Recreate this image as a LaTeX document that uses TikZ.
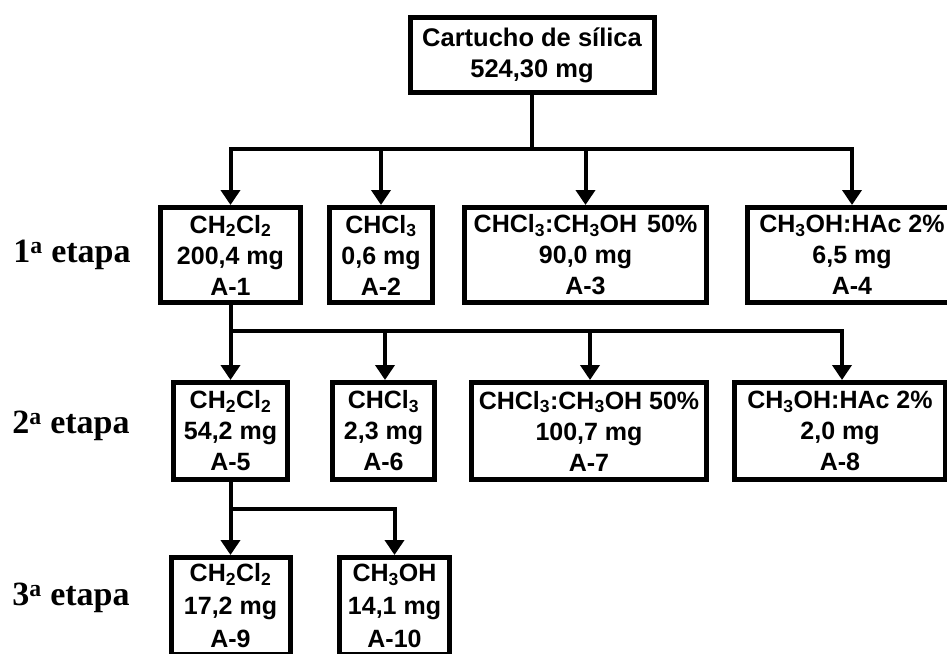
\documentclass[tikz,border=0pt]{standalone}
\usepackage{fontspec}
\setmainfont{Liberation Sans}
\newfontfamily\etapafont{Liberation Serif}
\usetikzlibrary{arrows.meta}
\begin{document}
\begin{tikzpicture}[x=1pt,y=-1pt,
  box/.style={draw=black, line width=5pt, fill=white, inner sep=0pt, align=center,
    font=\bfseries\fontsize{25}{28}\selectfont},
  topbox/.style={box, font=\bfseries\fontsize{25.5}{30}\selectfont},
  conn/.style={line width=4pt, line join=miter},
  arr/.style={conn, -{Triangle[width=19pt,length=15pt]}},
  etapa/.style={font=\etapafont\bfseries\fontsize{34}{36}\selectfont, inner sep=0pt}
]
\useasboundingbox (0,0) rectangle (947,653);
\clip (0,0) rectangle (947,653);
\fill[white] (0,0) rectangle (947,653);

% stage labels
\node[etapa] (e1) at (72,255) {1\textsuperscript{a} etapa};
\node[etapa] (e2) at (71,426) {2\textsuperscript{a} etapa};
\node[etapa] (e3) at (71,598) {3\textsuperscript{a} etapa};

% top
\node[topbox, minimum width=244pt, minimum height=75pt] (top) at (532,55) {Cartucho de sílica\\[1pt]524,30 mg};

% row 1
\node[box, minimum width=140pt, minimum height=95pt] (A1) at (230.5,255) {CH\textsubscript{2}Cl\textsubscript{2}\\[3pt]200,4 mg\\[3pt]A-1};
\node[box, minimum width=103pt, minimum height=95pt] (A2) at (381,255) {CHCl\textsubscript{3}\\[3pt]0,6 mg\\[3pt]A-2};
\node[box, minimum width=242pt, minimum height=95pt] (A3) at (585.5,255) {CHCl\textsubscript{3}:CH\textsubscript{3}OH\hspace{0.4em}50\%\\[3pt]90,0 mg\\[3pt]A-3};
\node[box, minimum width=209pt, minimum height=95pt] (A4) at (852,255) {CH\textsubscript{3}OH:HAc 2\%\\[3pt]6,5 mg\\[3pt]A-4};

% row 2
\node[box, minimum width=114pt, minimum height=97pt] (A5) at (230.5,431) {CH\textsubscript{2}Cl\textsubscript{2}\\[3pt]54,2 mg\\[3pt]A-5};
\node[box, minimum width=102pt, minimum height=97pt] (A6) at (383.5,431) {CHCl\textsubscript{3}\\[3pt]2,3 mg\\[3pt]A-6};
\node[box, minimum width=235pt, minimum height=97pt] (A7) at (589,431) {CHCl\textsubscript{3}:CH\textsubscript{3}OH 50\%\\[3pt]100,7 mg\\[3pt]A-7};
\node[box, minimum width=211pt, minimum height=97pt] (A8) at (840,431) {CH\textsubscript{3}OH:HAc 2\%\\[3pt]2,0 mg\\[3pt]A-8};

% row 3
\node[box, minimum width=119pt, minimum height=97pt] (A9) at (230.5,606) {CH\textsubscript{2}Cl\textsubscript{2}\\[5pt]17,2 mg\\[5pt]A-9};
\node[box, minimum width=110pt, minimum height=97pt] (A10) at (394.5,606) {CH\textsubscript{3}OH\\[5pt]14,1 mg\\[5pt]A-10};

% buses
\coordinate (b1) at (top.south |- 0,149);
\coordinate (b2) at (A1.south |- 0,331);
\coordinate (b3) at (A5.south |- 0,509);

\draw[conn] (top.south) -- (b1);
\draw[arr] (b1) -| (A1.north);
\draw[arr] (b1) -| (A2.north);
\draw[arr] (b1) -| (A3.north);
\draw[arr] (b1) -| (A4.north);

\draw[conn] (A1.south) -- (b2);
\draw[arr] (b2) -- (A5.north);
\draw[arr] (b2) -| ([xshift=1.5pt]A6.north);
\draw[arr] (b2) -| ([xshift=1pt]A7.north);
\draw[arr] (b2) -| ([xshift=2pt]A8.north);

\draw[conn] (A5.south) -- (b3);
\draw[arr] (b3) -- (A9.north);
\draw[arr] (b3) -| (A10.north);
\end{tikzpicture}
\end{document}
